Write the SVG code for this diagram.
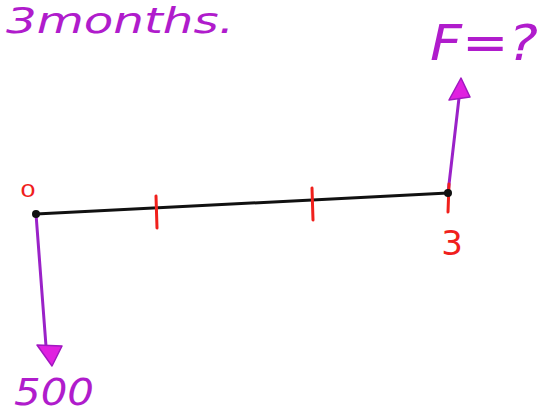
<svg xmlns="http://www.w3.org/2000/svg" width="556" height="416" viewBox="0 0 556 416">
<style>
.pt{font-family:"DejaVu Sans","Liberation Sans",sans-serif;fill:#b01ccc;font-style:oblique}
.rd{font-family:"DejaVu Sans","Liberation Sans",sans-serif;fill:#f0201c}
.tick{stroke:#f0201c;stroke-width:3;stroke-linecap:round}
.arr{stroke:#9a22c8;stroke-width:3;fill:none;stroke-linecap:round}
.head{fill:#e020e0;stroke:#a018c0;stroke-width:1.5;stroke-linejoin:round}
</style>
<rect width="556" height="416" fill="#fff"/>
<g id="title"><text class="pt" x="6" y="33" font-size="36" textLength="228" lengthAdjust="spacingAndGlyphs">3months.</text></g>
<g id="connectors">
<path d="M36 214 L448 193" stroke="#111" stroke-width="3" fill="none"/>
<path class="arr" d="M36 214 L46 346"/>
<path class="arr" d="M448 193 L459 98"/>
</g>
<g id="n0">
<circle cx="36" cy="214" r="4" fill="#111"/>
<text class="rd" x="28" y="197" font-size="18" text-anchor="middle" textLength="16" lengthAdjust="spacingAndGlyphs">0</text>
</g>
<g id="t1"><line class="tick" x1="156" y1="196" x2="157" y2="228"/></g>
<g id="t2"><line class="tick" x1="312" y1="188" x2="313" y2="220"/></g>
<g id="n3">
<line class="tick" x1="449" y1="184" x2="448" y2="212"/>
<circle cx="448" cy="193" r="4" fill="#111"/>
<text class="rd" x="452" y="255" font-size="34" text-anchor="middle">3</text>
</g>
<g id="out"><polygon class="head" points="37,345 62,346 52,366"/>
<text class="pt" x="14" y="405" font-size="38" textLength="80" lengthAdjust="spacingAndGlyphs">500</text></g>
<g id="in"><polygon class="head" points="449,100 470,97 461,78"/>
<text class="pt" x="430" y="60" font-size="50" textLength="108" lengthAdjust="spacingAndGlyphs">F=?</text></g>
</svg>
